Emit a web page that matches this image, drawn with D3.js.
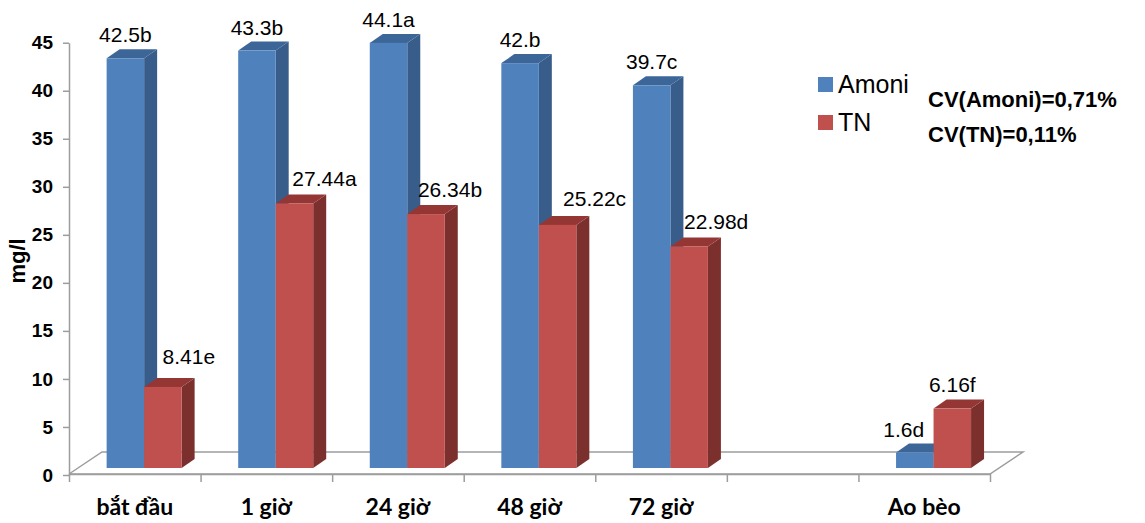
<!DOCTYPE html>
<html>
<head>
<meta charset="utf-8">
<script src="https://cdn.jsdelivr.net/npm/d3@7"></script>
<style>
  html, body { margin: 0; padding: 0; background: #ffffff; }
  svg { display: block; }
</style>
</head>
<body>
<script>
// Nồng độ Amoni và TN (mg/l) theo thời gian xử lý
const categories = ["bắt đầu", "1 giờ", "24 giờ", "48 giờ", "72 giờ", "", "Ao bèo"];
const amoni = [42.5, 43.3, 44.1, 42, 39.7, null, 1.6];
const tn = [8.41, 27.44, 26.34, 25.22, 22.98, null, 6.16];
const amoniLabels = ["42.5b", "43.3b", "44.1a", "42.b", "39.7c", null, "1.6d"];
const tnLabels = ["8.41e", "27.44a", "26.34b", "25.22c", "22.98d", null, "6.16f"];
const yTicks = [0, 5, 10, 15, 20, 25, 30, 35, 40, 45];
const seriesNames = ["Amoni", "TN"];
const cvNotes = ["CV(Amoni)=0,71%", "CV(TN)=0,11%"];

// label nudges (px) for the hand-placed value labels
const amoniLabelDx = [0, 0, 0, 0, 0, 0, -11];
const tnLabelDx = [26, 30, 24, 37, 27, 0, 0];
const tnLabelDy = [-6, 0, 0, -2, 0, 0, 0];

const W = 1145, H = 523;
const colors = {
  Amoni: { front: "#4f81bd", side: "#385d8a", top: "#3d6698" },
  TN:    { front: "#c0504d", side: "#7c302e", top: "#943734" }
};

const svg = d3.select("body").append("svg")
  .attr("width", W).attr("height", H);

// plot frame
const x0 = 69, x1 = 990;
const floorY = 474;
const floorDepth = { dx: 33, dy: -22 };
const barDepth = { dx: 13, dy: -9 };

const xBand = d3.scaleBand()
  .domain(d3.range(categories.length))
  .range([x0, x1])
  .paddingInner(0).paddingOuter(0);
const xEdge = d3.scaleLinear()
  .domain([0, categories.length])
  .range([x0, x1]);

const yAxisScale = d3.scaleLinear().domain([0, 45]).range([475, 42.7]);
const yBar = d3.scaleLinear().domain([0, 45]).range([468, 468 - 45 * 9.64]);

const gridColor = "#9d9d9d";

// floor
svg.append("path")
  .attr("d", d3.line()([
    [x0, floorY], [x1, floorY],
    [x1 + floorDepth.dx, floorY + floorDepth.dy],
    [x0 + floorDepth.dx, floorY + floorDepth.dy],
    [x0, floorY]
  ]))
  .attr("fill", "none")
  .attr("stroke", gridColor)
  .attr("stroke-width", 1.5);

// y axis
const yAxis = svg.append("g")
  .attr("transform", `translate(${x0},0)`)
  .call(d3.axisLeft(yAxisScale).tickValues(yTicks).tickSize(6).tickSizeOuter(0).tickPadding(10));
yAxis.select(".domain").attr("stroke", gridColor).attr("stroke-width", 1.5);
yAxis.selectAll(".tick line").attr("stroke", gridColor).attr("stroke-width", 1.5);
yAxis.selectAll(".tick text")
  .attr("fill", "#000")
  .style("font-family", "'Liberation Sans', Arial, sans-serif")
  .style("font-weight", "bold")
  .style("font-size", "19px");

// x axis (category boundaries)
const xAxis = svg.append("g")
  .attr("transform", `translate(0,${floorY})`)
  .call(d3.axisBottom(xEdge).tickValues(d3.range(categories.length + 1))
    .tickFormat("").tickSize(8).tickSizeOuter(0));
xAxis.select(".domain").attr("stroke", gridColor).attr("stroke-width", 1.5);
xAxis.selectAll(".tick line").attr("stroke", gridColor).attr("stroke-width", 1.5);

svg.append("g").selectAll("text")
  .data(categories)
  .join("text")
  .attr("x", (d, i) => xBand(i) + xBand.bandwidth() / 2)
  .attr("y", 515)
  .attr("text-anchor", "middle")
  .style("font-family", "Lato, 'Open Sans', sans-serif")
  .style("font-weight", "bold")
  .style("font-size", "23px")
  .text(d => d);

// y axis title
svg.append("text")
  .attr("transform", "translate(25,261) rotate(-90)")
  .attr("text-anchor", "middle")
  .style("font-family", "'Liberation Sans', Arial, sans-serif")
  .style("font-weight", "bold")
  .style("font-size", "22px")
  .text("mg/l");

// 3D bars
const bw = xBand.bandwidth() * 0.285;
const offs = { Amoni: 0.286, TN: 0.571 };

function drawBar(g, xl, v, c) {
  const yt = yBar(v), yb = yBar(0);
  const xr = xl + bw;
  // side face
  g.append("path")
    .attr("d", d3.line()([[xr, yb], [xr + barDepth.dx, yb + barDepth.dy],
      [xr + barDepth.dx, yt + barDepth.dy], [xr, yt]]) + "Z")
    .attr("fill", c.side);
  // top face
  g.append("path")
    .attr("d", d3.line()([[xl, yt], [xl + barDepth.dx, yt + barDepth.dy],
      [xr + barDepth.dx, yt + barDepth.dy], [xr, yt]]) + "Z")
    .attr("fill", c.top);
  // front face
  g.append("rect")
    .attr("x", xl).attr("y", yt)
    .attr("width", bw).attr("height", yb - yt)
    .attr("fill", c.front);
}

const bars = svg.append("g");
categories.forEach((cat, i) => {
  if (amoni[i] != null) drawBar(bars, xBand(i) + xBand.bandwidth() * offs.Amoni, amoni[i], colors.Amoni);
  if (tn[i] != null) drawBar(bars, xBand(i) + xBand.bandwidth() * offs.TN, tn[i], colors.TN);
});

// value labels
const labelFont = "'Liberation Sans', Arial, sans-serif";
const labels = svg.append("g")
  .style("font-family", labelFont)
  .style("font-size", "21px")
  .attr("text-anchor", "middle");
categories.forEach((cat, i) => {
  if (amoni[i] != null) {
    labels.append("text")
      .attr("x", xBand(i) + xBand.bandwidth() * offs.Amoni + bw / 2 + amoniLabelDx[i])
      .attr("y", yBar(amoni[i]) + barDepth.dy - 7)
      .text(amoniLabels[i]);
  }
  if (tn[i] != null) {
    labels.append("text")
      .attr("x", xBand(i) + xBand.bandwidth() * offs.TN + bw / 2 + tnLabelDx[i])
      .attr("y", yBar(tn[i]) + barDepth.dy - 8 + tnLabelDy[i])
      .text(tnLabels[i]);
  }
});

// legend
const legend = svg.append("g").attr("transform", "translate(818,77)");
seriesNames.forEach((name, i) => {
  legend.append("rect")
    .attr("x", 0).attr("y", i * 38)
    .attr("width", 15).attr("height", 15)
    .attr("fill", colors[name].front);
  legend.append("text")
    .attr("x", 20).attr("y", i * 38 + 16)
    .style("font-family", labelFont)
    .style("font-size", "25px")
    .text(name);
});

// coefficient of variation notes
svg.append("g").selectAll("text")
  .data(cvNotes)
  .join("text")
  .attr("x", 928)
  .attr("y", (d, i) => 107 + i * 35)
  .style("font-family", labelFont)
  .style("font-weight", "bold")
  .style("font-size", "22px")
  .text(d => d);
</script>
</body>
</html>
